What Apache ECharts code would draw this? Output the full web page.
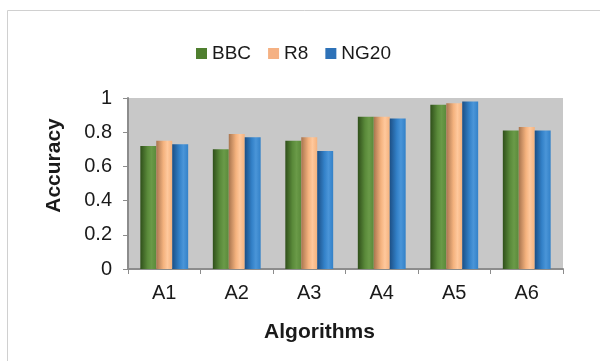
<!DOCTYPE html>
<html>
<head>
<meta charset="utf-8">
<script src="https://cdn.jsdelivr.net/npm/echarts@6/dist/echarts.min.js"></script>
<style>
  html, body { margin: 0; padding: 0; background: #fff; }
  #chart { width: 600px; height: 361px; }
</style>
</head>
<body>
<div id="chart"></div>
<script>
// Accuracy of six algorithms on three text datasets
const categories = ['A1', 'A2', 'A3', 'A4', 'A5', 'A6'];
const bbc  = [0.72, 0.70, 0.75, 0.89, 0.96, 0.81];
const r8   = [0.75, 0.79, 0.77, 0.89, 0.97, 0.83];
const ng20 = [0.73, 0.77, 0.69, 0.88, 0.98, 0.81];
const yTicks = [0, 0.2, 0.4, 0.6, 0.8, 1];

const FONT = '"Liberation Sans", Arial, sans-serif';

// shaded cylinder-like fill: darker edges, lighter middle
function shade(dark, mid, light) {
  return new echarts.graphic.LinearGradient(0, 0, 1, 0, [
    { offset: 0, color: dark },
    { offset: 0.45, color: mid },
    { offset: 0.7, color: light },
    { offset: 1, color: mid }
  ]);
}

const seriesDefs = [
  { name: 'BBC',  data: bbc,  legend: '#4f7f2f', fill: shade('#2f4f1a', '#5a8a3a', '#6a9a48') },
  { name: 'R8',   data: r8,   legend: '#f5b183', fill: shade('#a8754f', '#f4b27e', '#ffc89c') },
  { name: 'NG20', data: ng20, legend: '#2e72b8', fill: shade('#1c4f85', '#3381c8', '#4a95d8') }
];

const chart = echarts.init(document.getElementById('chart'), null, { renderer: 'canvas' });
chart.setOption({
  animation: false,
  backgroundColor: '#ffffff',
  graphic: [{
    type: 'rect',
    shape: { x: 7.5, y: 10.5, width: 620, height: 380 },
    style: { fill: 'none', stroke: '#d0d0d0', lineWidth: 1 },
    silent: true, z: -1
  }],
  legend: {
    top: 39,
    left: 191,
    itemWidth: 11,
    itemHeight: 11,
    itemGap: 17,
    icon: 'rect',
    textStyle: { fontFamily: FONT, fontSize: 19, color: '#1a1a1a' },
    data: seriesDefs.map(s => ({ name: s.name, itemStyle: { color: s.legend } }))
  },
  grid: {
    left: 128, right: 37, top: 98, bottom: 92,
    show: true, backgroundColor: '#c8c8c8', borderWidth: 0
  },
  xAxis: {
    type: 'category',
    data: categories,
    name: 'Algorithms',
    nameLocation: 'middle',
    nameGap: 53,
    nameTextStyle: {
      fontFamily: FONT, fontSize: 21, fontWeight: 'bold', color: '#1a1a1a',
      padding: [0, 52, 0, 0]
    },
    axisLine: { lineStyle: { color: '#8c8c8c', width: 2 } },
    axisTick: { show: true, length: 5, lineStyle: { color: '#8c8c8c' } },
    axisLabel: { fontFamily: FONT, fontSize: 20, color: '#1a1a1a', margin: 14 }
  },
  yAxis: {
    type: 'value',
    min: yTicks[0],
    max: yTicks[yTicks.length - 1],
    interval: 0.2,
    name: 'Accuracy',
    nameLocation: 'middle',
    nameGap: 63,
    nameTextStyle: {
      fontFamily: FONT, fontSize: 21, fontWeight: 'bold', color: '#1a1a1a',
      padding: [0, 0, 0, 36]
    },
    axisLine: { show: true, lineStyle: { color: '#8c8c8c', width: 2 } },
    axisTick: { show: true, length: 5, lineStyle: { color: '#8c8c8c' } },
    splitLine: { show: false },
    axisLabel: {
      fontFamily: FONT, fontSize: 20, color: '#1a1a1a', margin: 16,
      formatter: v => String(Math.round(v * 10) / 10)
    }
  },
  series: seriesDefs.map(s => ({
    name: s.name,
    type: 'bar',
    data: s.data,
    barGap: '0%',
    barCategoryGap: '34%',
    itemStyle: { color: s.fill }
  }))
});
</script>
</body>
</html>
